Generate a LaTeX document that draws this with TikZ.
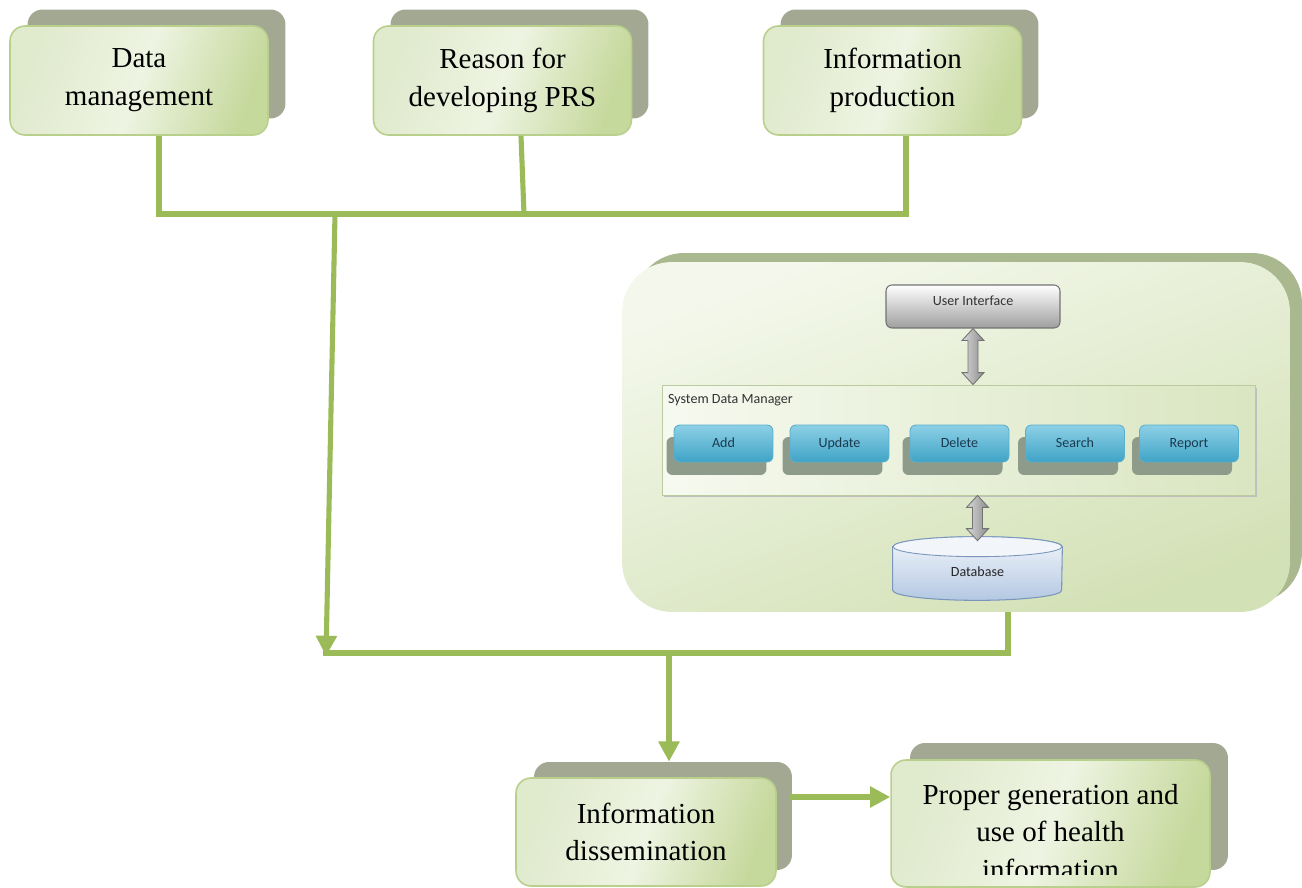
\documentclass[tikz,border=0pt]{standalone}
\usepackage{fontspec}
\setmainfont{Liberation Serif}
\newfontfamily\uifont{Carlito}
\usetikzlibrary{arrows.meta,calc}

\definecolor{linegreen}{HTML}{9BBB59}
\definecolor{boxedge}{HTML}{B9CF8C}
\definecolor{boxlight}{HTML}{EEF4E2}
\definecolor{boxmid}{HTML}{E0EACD}
\definecolor{boxdark}{HTML}{C6D99D}
\definecolor{backshade}{HTML}{A3A892}
\definecolor{panelback}{HTML}{A9B88E}
\definecolor{panellight}{HTML}{F4F8EC}
\definecolor{paneldark}{HTML}{D3E1B6}
\definecolor{sdmedge}{HTML}{BCCB9F}
\definecolor{btntop}{HTML}{8DD0E6}
\definecolor{btnbot}{HTML}{3FA3C6}
\definecolor{btnedge}{HTML}{5AAFCD}
\definecolor{btnshadow}{HTML}{8E9B8A}
\definecolor{btntext}{HTML}{1B3A4E}
\definecolor{dbtop}{HTML}{F2F6FB}
\definecolor{dbbot}{HTML}{B4C8E2}
\definecolor{dbedge}{HTML}{7A96BA}

% vertical block arrow with heads at both ends, from #1 (top) to #2 (bottom)
\newcommand\vdblarrow[2]{%
  \path[dblarrow] (#1) -- ($(#1)+(11,12)$) -- ($(#1)+(5,12)$) -- ($(#2)+(5,-12)$)
    -- ($(#2)+(11,-12)$) -- (#2) -- ($(#2)+(-11,-12)$) -- ($(#2)+(-5,-12)$)
    -- ($(#1)+(-5,12)$) -- ($(#1)+(-11,12)$) -- cycle;}

\begin{document}
\begin{tikzpicture}[x=0.02cm,y=-0.02cm,
  backbox/.style={rounded corners=0.3cm, fill=backshade, inner sep=0pt,
    minimum width=5.16cm, minimum height=2.18cm},
  frontbox/.style={rounded corners=0.3cm, draw=boxedge, line width=0.9pt,
    left color=boxmid, right color=boxdark, middle color=boxlight, shading angle=70,
    inner sep=0pt, minimum width=5.16cm, minimum height=2.18cm,
    align=center, font=\fontsize{16.5}{21.5}\selectfont},
  bigtext/.style={align=center, font=\fontsize{16.5}{21.5}\selectfont, inner sep=0pt},
  bus/.style={draw=linegreen, line width=2.9pt, line join=miter},
  tip/.style={-{Triangle[width=11.5pt,length=11.5pt]}},
  panelbackbox/.style={rounded corners=1cm, fill=panelback, inner sep=0pt,
    minimum width=13.36cm, minimum height=7cm},
  panelbox/.style={rounded corners=1cm, top color=panellight, bottom color=paneldark,
    shading angle=20, inner sep=0pt, minimum width=13.36cm, minimum height=7cm},
  uitext/.style={font=\uifont\fontsize{8}{9.5}\selectfont, text=black!80, inner sep=1pt},
  sdmbox/.style={draw=sdmedge, line width=0.5pt, left color=panellight!80!white,
    right color=paneldark!85!white, inner sep=0pt, minimum width=11.86cm, minimum height=2.2cm},
  btn/.style={rounded corners=0.12cm, draw=btnedge, line width=0.5pt, top color=btntop,
    bottom color=btnbot, inner sep=0pt, minimum width=1.98cm, minimum height=0.74cm,
    text height=1.5ex, text depth=0.4ex,
    font=\uifont\fontsize{8}{9.5}\selectfont, text=btntext},
  btnback/.style={rounded corners=0.12cm, fill=btnshadow, inner sep=0pt,
    minimum width=2cm, minimum height=0.76cm},
  uibox/.style={rounded corners=0.12cm, draw=black!55, line width=0.6pt, top color=white,
    bottom color=black!38, inner sep=0pt, minimum width=3.48cm, minimum height=0.86cm},
  dblarrow/.style={draw=black!55, line width=0.5pt, left color=black!15, right color=black!45},
  dbbody/.style={draw=dbedge, line width=0.6pt, top color=dbtop, bottom color=dbbot}
]
\useasboundingbox (0,0) rectangle (1302,888);

% ---- top row of process boxes
\node[backbox] (dmsh) at (156.5,64) {};
\node[frontbox] (dm) at (139,80.5) {Data\\management};
\node[backbox] (rssh) at (519.5,64) {};
\node[frontbox] (rs) at (502.5,80.5) {Reason for\\developing PRS};
\node[backbox] (ipsh) at (909.5,64) {};
\node[frontbox] (ip) at (892.5,80.5) {Information\\production};

% ---- collecting bus under the top row
\coordinate (t1) at (159,214);
\coordinate (t2) at (524,214);
\coordinate (t3) at (906,214);
\draw[bus] (dm.south -| t1) -- (t1) -- (t3) -- (ip.south -| t3);
\draw[bus] ($(rs.south)+(18.5,0)$) -- (t2);

% ---- system panel
\node[panelbackbox] (syssh) at (968,428) {};
\node[panelbox] (sys) at (956,437) {};

\node[uibox] (ui) at (973,306.5) {};
\node[uitext] (uilabel) at (973,301) {User Interface};

\node[fill=black!25, inner sep=0pt, minimum width=11.86cm, minimum height=2.2cm] at (960.5,442.5) {};
\node[sdmbox] (sdm) at (958.5,440) {};
\node[uitext, anchor=west] (sdmlabel) at (666,400) {System Data Manager};

\foreach \nm/\x/\lab in {add/723.5/Add, upd/839.5/Update, del/959.5/Delete,
                         sea/1075/Search, rep/1189/Report}{
  \node[btnback] (\nm sh) at ({\x-7},456) {};
  \node[btn] (\nm) at (\x,443.5) {\lab};
}

% database cylinder
\node[inner sep=0pt, minimum width=3.38cm, minimum height=1.26cm] (db) at (977.5,568.5) {};
\path[dbbody] ($(db.north west)+(0,10)$) -- ($(db.south west)+(0,-10)$)
  arc[start angle=180, end angle=360, x radius=1.69cm, y radius=0.2cm]
  -- ($(db.north east)+(0,10)$)
  arc[start angle=0, end angle=180, x radius=1.69cm, y radius=0.2cm] -- cycle;
\draw[dbedge, line width=0.5pt, fill=dbtop] ($(db.north)+(0,10)$)
  ellipse[x radius=1.69cm, y radius=0.2cm];
\node[uitext, text=black!85] (dblabel) at (977.5,572) {Database};

\coordinate (a1) at (ui.south);
\coordinate (a2) at (ui.south |- sdm.north);
\vdblarrow{a1}{a2}
\coordinate (a3) at (db.north |- sdm.south);
\coordinate (a4) at ($(db.north)+(0,4)$);
\vdblarrow{a3}{a4}

% ---- lower bus and arrows
\coordinate (j1) at (335,214);
\coordinate (j2) at (326,656);
\coordinate (b2l) at (323,653);
\coordinate (b2r) at (1008,653);
\coordinate (b2m) at (669,653);
\draw[bus, tip] (j1) -- (j2);
\draw[bus] (sys.south -| b2r) -- (b2r) -- (b2l);

% ---- bottom row
\node[backbox, minimum width=5.16cm, minimum height=2.16cm] (dissh) at (663,816) {};
\node[frontbox, minimum width=5.2cm, minimum height=2.16cm] (dis) at (646,832) {Information\\dissemination};
\node[backbox, minimum width=6.36cm, minimum height=2.54cm] (pgsh) at (1069,806.5) {};
\node[frontbox, minimum width=6.38cm, minimum height=2.54cm] (pg) at (1050.5,823.5) {};
\begin{scope}
  \clip (880,750) rectangle (1220,874);
  \node[bigtext] (pgtext) at (1050.5,832) {Proper generation and\\use of health\\information};
\end{scope}

\draw[bus, tip] (b2m) -- (dissh.north -| b2m);
\coordinate (ay) at (790,797);
\draw[bus, tip] (ay) -- (pg.west |- ay);
\end{tikzpicture}
\end{document}
